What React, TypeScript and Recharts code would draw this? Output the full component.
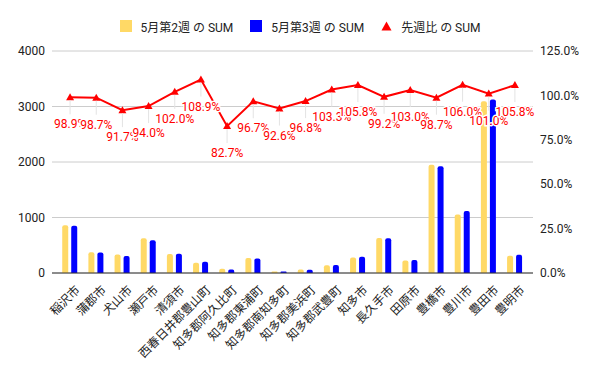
import React from "react";
import {
  ComposedChart,
  Bar,
  Line,
  XAxis,
  YAxis,
  CartesianGrid,
  Legend,
} from "recharts";

const categories = [
  "稲沢市",
  "蒲郡市",
  "犬山市",
  "瀬戸市",
  "清須市",
  "西春日井郡豊山町",
  "知多郡阿久比町",
  "知多郡東浦町",
  "知多郡南知多町",
  "知多郡美浜町",
  "知多郡武豊町",
  "知多市",
  "長久手市",
  "田原市",
  "豊橋市",
  "豊川市",
  "豊田市",
  "豊明市",
];

const week2 = [860, 375, 335, 625, 342, 186, 75, 272, 27, 62, 140, 278, 630, 225, 1950, 1055, 3095, 312];
const week3 = [851, 370, 307, 588, 349, 203, 62, 263, 25, 60, 145, 294, 625, 232, 1925, 1118, 3126, 330];
const ratio = [0.989, 0.987, 0.917, 0.94, 1.02, 1.089, 0.827, 0.967, 0.926, 0.968, 1.033, 1.058, 0.992, 1.03, 0.987, 1.06, 1.01, 1.058];

const leftTicks = [0, 1000, 2000, 3000, 4000];
const rightTicks = [0, 0.25, 0.5, 0.75, 1, 1.25];

const seriesNames = ["5月第2週 の SUM", "5月第3週 の SUM", "先週比 の SUM"];
const colors = ["#ffd966", "#0000ff", "#ff0000"];

const data = categories.map((name, i) => ({
  name,
  w2: week2[i],
  w3: week3[i],
  ratio: ratio[i],
}));

const FONT = "Roboto, 'Noto Sans CJK JP', sans-serif";

const XTick = (props: any) => {
  const { x, y, payload } = props;
  return (
    <g transform={`translate(${x + 5},${y + 4})`}>
      <text
        x={0}
        y={0}
        dy={8}
        textAnchor="end"
        transform="rotate(-45)"
        fontSize={12}
        fill="#222"
        fontFamily={FONT}
      >
        {payload.value}
      </text>
    </g>
  );
};

const Triangle = (props: any) => {
  const { cx, cy } = props;
  if (cx == null || cy == null) return null;
  const s = 4;
  return (
    <path
      d={`M${cx},${cy - s} L${cx + s},${cy + s * 0.75} L${cx - s},${cy + s * 0.75} Z`}
      fill="#ff0000"
    />
  );
};

const RatioLabel = (props: any) => {
  const { x, y, value } = props;
  if (x == null || y == null) return null;
  return (
    <g>
      <line x1={x} y1={y + 3} x2={x} y2={y + 17} stroke="#e3e3e3" strokeWidth={1} />
      <text
        x={x}
        y={y + 31}
        textAnchor="middle"
        fontSize={12}
        fill="#ff0000"
        stroke="#ffffff"
        strokeWidth={3}
        paintOrder="stroke"
        fontFamily={FONT}
      >
        {(value * 100).toFixed(1) + "%"}
      </text>
    </g>
  );
};

const LegendContent = () => (
  <div
    style={{
      height: 39,
      display: "flex",
      justifyContent: "center",
      alignItems: "flex-start",
      fontFamily: FONT,
      fontSize: 12,
      color: "#222",
    }}
  >
    {seriesNames.map((n, i) => (
      <div
        key={n}
        style={{
          display: "flex",
          alignItems: "center",
          marginRight: i < 2 ? 17 : 0,
          height: 28,
        }}
      >
        {i < 2 ? (
          <div style={{ width: 12, height: 12, background: colors[i], marginRight: 9 }} />
        ) : (
          <svg width={11} height={12} style={{ marginRight: 9 }}>
            <path d="M5.5,1.5 L10.5,10.5 L0.5,10.5 Z" fill={colors[2]} />
          </svg>
        )}
        <span>{n}</span>
      </div>
    ))}
  </div>
);

export default function App() {
  return (
    <div
      style={{
        position: "absolute",
        left: 0,
        top: 0,
        width: 600,
        height: 371,
        background: "#fff",
        fontFamily: FONT,
      }}
    >
      <ComposedChart
        width={600}
        height={371}
        data={data}
        margin={{ top: 12, right: 8, bottom: 8, left: 8 }}
        barCategoryGap="20%"
        barGap={3}
      >
        <Legend verticalAlign="top" align="center" content={<LegendContent />} />
        <CartesianGrid yAxisId="left" vertical={false} stroke="#cccccc" />
        <XAxis
          dataKey="name"
          interval={0}
          tickLine={false}
          axisLine={{ stroke: "#333333" }}
          padding={{ left: 5, right: 5 }}
          height={90}
          tick={<XTick />}
        />
        <YAxis
          yAxisId="left"
          orientation="left"
          domain={[0, 4000]}
          ticks={leftTicks}
          width={44}
          axisLine={false}
          tickLine={false}
          tickSize={0}
          tickMargin={7}
          tick={{ fontSize: 12, fill: "#222" }}
        />
        <YAxis
          yAxisId="right"
          orientation="right"
          domain={[0, 1.25]}
          ticks={rightTicks}
          width={59}
          axisLine={false}
          tickLine={false}
          tickSize={0}
          tickMargin={7}
          tick={{ fontSize: 12, fill: "#222", textAnchor: "start" }}
          tickFormatter={(v: number) => (v * 100).toFixed(1) + "%"}
        />
        <Bar yAxisId="left" dataKey="w2" name={seriesNames[0]} fill={colors[0]} radius={[2, 2, 0, 0]} isAnimationActive={false} />
        <Bar yAxisId="left" dataKey="w3" name={seriesNames[1]} fill={colors[1]} radius={[2, 2, 0, 0]} isAnimationActive={false} />
        <Line
          yAxisId="right"
          dataKey="ratio"
          name={seriesNames[2]}
          stroke={colors[2]}
          strokeWidth={2}
          dot={<Triangle />}
          activeDot={false}
          isAnimationActive={false}
          label={(p: any) => <RatioLabel {...p} />}
        />
      </ComposedChart>
    </div>
  );
}
